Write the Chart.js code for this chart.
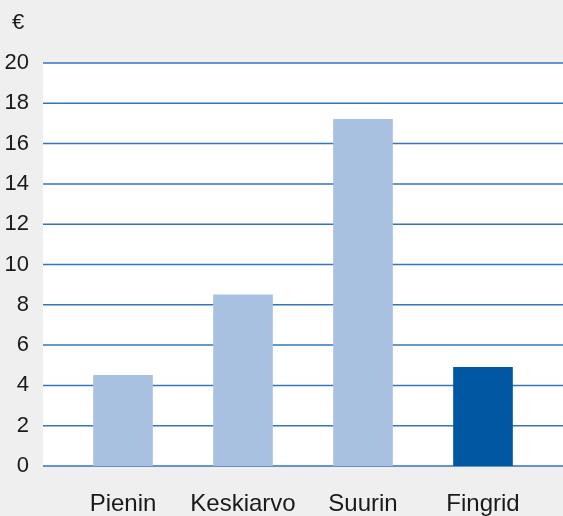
<!DOCTYPE html>
<html>
<head>
<meta charset="utf-8">
<script src="https://cdn.jsdelivr.net/npm/chart.js@4/dist/chart.umd.min.js"></script>
<style>
  html, body { margin: 0; padding: 0; background: #efefef; }
  canvas { display: block; }
</style>
</head>
<body>
<canvas id="myChart" width="563" height="516"></canvas>
<script>
// data
var categories = ['Pienin', 'Keskiarvo', 'Suurin', 'Fingrid'];
var values = [4.5, 8.5, 17.2, 4.9];
var barColors = ['#a8c1e0', '#a8c1e0', '#a8c1e0', '#0058a3'];
var unitLabel = '€';

// white plot box + gridlines running past the chart area on both sides
const plotBackground = {
  id: 'plotBackground',
  beforeDatasetsDraw: (chart) => {
    const ctx = chart.ctx;
    const y = chart.scales.y;
    const {top, bottom} = chart.chartArea;
    const left = 43, right = chart.width;

    ctx.save();
    ctx.fillStyle = '#ffffff';
    ctx.fillRect(left, top, right - left, bottom - top);

    ctx.strokeStyle = '#3574b8';
    ctx.lineWidth = 1.5;
    y.ticks.forEach(function(t) {
      var py = y.getPixelForValue(t.value);
      ctx.beginPath();
      ctx.moveTo(left, py);
      ctx.lineTo(right, py);
      ctx.stroke();
    });

    // unit above the axis
    ctx.fillStyle = '#1a1a1a';
    ctx.font = '22px "Liberation Sans", Arial, sans-serif';
    ctx.textAlign = 'center';
    ctx.textBaseline = 'middle';
    ctx.fillText(unitLabel, 18, 23);
    ctx.restore();
  }
};

var ctx = document.getElementById('myChart').getContext('2d');

new Chart(ctx, {
  type: 'bar',
  data: {
    labels: categories,
    datasets: [{
      data: values,
      backgroundColor: barColors,
      borderWidth: 0,
      barThickness: 59
    }]
  },
  plugins: [plotBackground],
  options: {
    responsive: false,
    animation: false,
    layout: {
      padding: { top: 63, right: 20, left: 0, bottom: 0 }
    },
    scales: {
      x: {
        grid: { display: false, drawTicks: false },
        border: { display: false },
        ticks: {
          color: '#1a1a1a',
          padding: 24,
          font: { family: '"Liberation Sans", Arial, sans-serif', size: 24 }
        },
        afterFit: function(scale) { scale.height = 50; }
      },
      y: {
        min: 0,
        max: 20,
        grid: { display: false, drawTicks: false },
        border: { display: false },
        ticks: {
          stepSize: 2,
          color: '#1a1a1a',
          padding: 34,
          font: { family: '"Liberation Sans", Arial, sans-serif', size: 22 }
        },
        afterFit: function(scale) { scale.width = 63; }
      }
    },
    plugins: {
      legend: { display: false },
      title: { display: false },
      tooltip: { enabled: false }
    }
  }
});
</script>
</body>
</html>
